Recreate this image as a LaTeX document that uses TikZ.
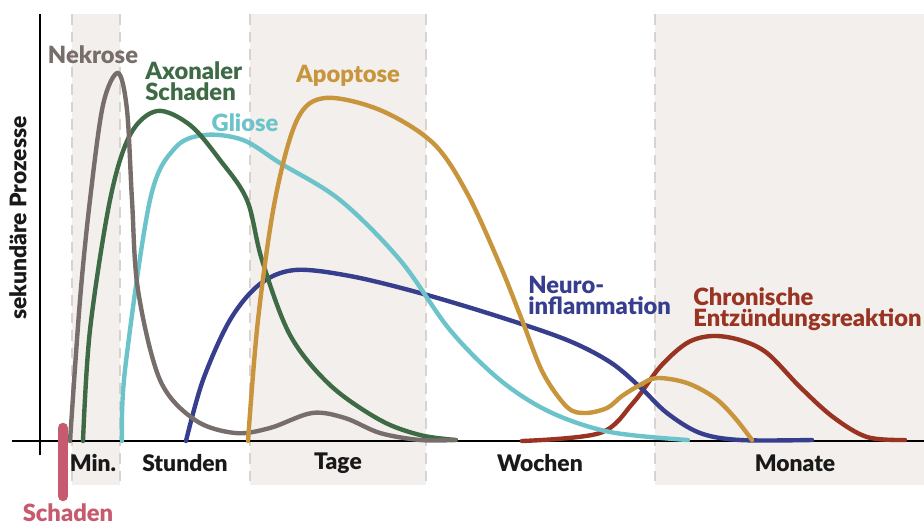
\documentclass[tikz,border=0pt]{standalone}
\usepackage{fontspec}
\setmainfont{Lato}[BoldFont={Lato Black}]
\usepackage{xcolor}

\definecolor{bandfill}{HTML}{F3EFEC}
\definecolor{bandline}{HTML}{D9D2CE}
\definecolor{nekrosegrey}{HTML}{776E6B}
\definecolor{axongreen}{HTML}{3E6B45}
\definecolor{gliosecyan}{HTML}{6CC4CA}
\definecolor{apoptoseochre}{HTML}{C8943C}
\definecolor{neuroblue}{HTML}{363E8D}
\definecolor{chronred}{HTML}{993322}
\definecolor{schadenpink}{HTML}{C65A6E}

\tikzset{
  curve/.style={line width=2.5pt, line cap=round, smooth, tension=0.55},
  axisline/.style={line width=1.6pt, black},
  lbl/.style={font=\bfseries\fontsize{13.5}{12}\selectfont, align=left, inner sep=0pt},
  ticklbl/.style={font=\bfseries\fontsize{13}{12}\selectfont, inner sep=0pt, black!90}
}

\begin{document}
\begin{tikzpicture}[x=0.02cm,y=-0.02cm]
  %\draw[help lines] (0,0) grid (924,525);
  \useasboundingbox (0,0) rectangle (924,525);

  \foreach \a/\b in {72/120,250/426,655/924}
    {\fill[bandfill] (\a,14) rectangle (\b,485);}
  \foreach \x in {72,120,250,426,655}
    {\draw[bandline, line width=0.8pt, dash pattern=on 6pt off 4pt] (\x,14) -- (\x,485);}

  \coordinate (ytop) at (40,14);
  \coordinate (ybot) at (40,455);
  \coordinate (xleft) at (12,441);
  \coordinate (xright) at (924,441);
  \draw[axisline] (ybot) -- (ytop);
  \draw[axisline] (xleft) -- (xright);

  % Schaden
  \coordinate (dmgtop) at (63,428);
  \coordinate (dmgbot) at (63,496);
  \draw[schadenpink, line width=6pt, line cap=round] (dmgtop) -- (dmgbot);
  \node[lbl, schadenpink] (schaden) at (68,513) {Schaden};

  \draw[curve, chronred] plot coordinates {(522,441) (600,433) (633,403) (660,367)
    (687,343) (712,336) (740,340) (767,353) (800,387) (833,417) (867,437) (905,440)};
  \draw[curve, neuroblue] plot coordinates {(186,441) (203,380) (230,320) (260,284)
    (295,270) (350,276) (420,293) (500,317) (567,340) (610,362) (640,387) (667,413)
    (700,433) (740,440) (812,440)};
  \draw[curve, gliosecyan] plot coordinates {(122,441) (125,370) (150,200) (175,148)
    (205,135) (243,140) (280,163) (340,200) (400,260) (450,330) (500,380) (550,412)
    (610,432) (688,440)};
  \draw[curve, axongreen] plot coordinates {(83,441) (90,330) (110,200) (130,135)
    (157,111) (190,125) (220,160) (247,200) (262,260) (290,335) (330,385) (380,420)
    (420,435) (456,440)};
  \draw[curve, nekrosegrey] plot coordinates {(70,441) (80,300) (90,200) (103,105)
    (118,73) (127,110) (132,200) (138,290) (160,380) (195,420) (235,433) (270,428)
    (312,413) (345,418) (380,433) (420,440) (455,440)};
  \draw[curve, apoptoseochre] plot coordinates {(248,441) (258,320) (275,200) (297,120)
    (325,98) (380,110) (433,143) (467,193) (500,265) (522,320) (543,373) (567,407)
    (585,413) (607,408) (622,396) (640,385) (657,378) (687,383) (715,398) (735,418)
    (752,440)};

  \node[lbl, nekrosegrey] (nekrose) at (93,55) {Nekrose};
  \node[lbl, axongreen, anchor=west] (axon) at (145,81) {Axonaler\\Schaden};
  \node[lbl, gliosecyan] (gliose) at (245,123) {Gliose};
  \node[lbl, apoptoseochre] (apoptose) at (348,76) {Apoptose};
  \node[lbl, neuroblue, anchor=west] (neuro) at (528,295) {Neuro-\\inflammation};
  \node[lbl, chronred, anchor=west] (chron) at (693,309) {Chronische\\Entzündungsreaktion};

  \node[ticklbl] (tmin) at (93,463) {Min.};
  \node[ticklbl] (tstd) at (185,463) {Stunden};
  \node[ticklbl] (ttag) at (338,463) {Tage};
  \node[ticklbl] (twoc) at (540,463) {Wochen};
  \node[ticklbl] (tmon) at (795,463) {Monate};

  \node[ticklbl, rotate=90] (ylabel) at (18,218) {sekundäre Prozesse};
\end{tikzpicture}
\end{document}
